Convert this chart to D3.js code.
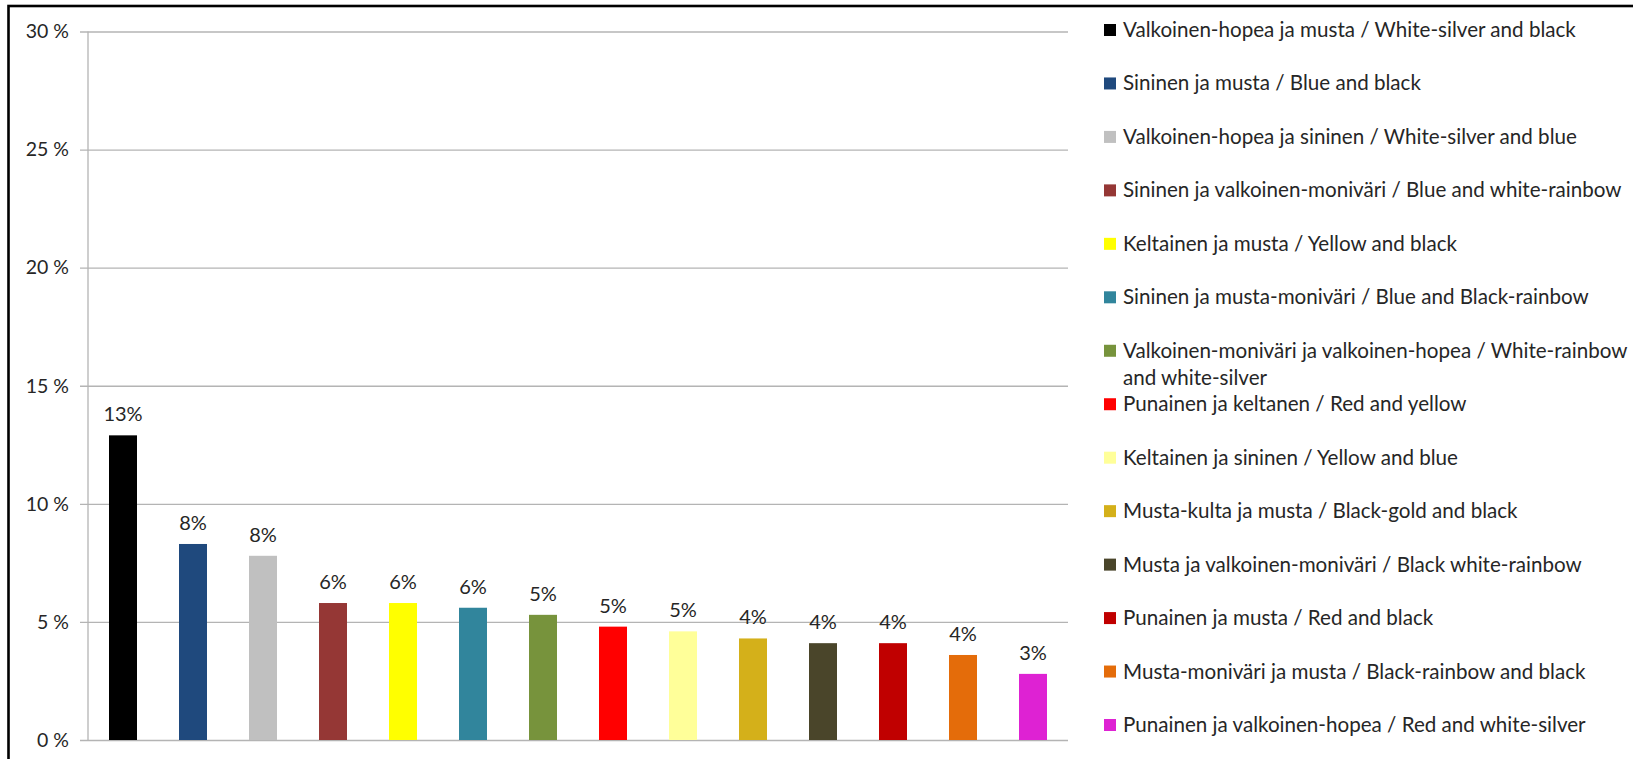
<!DOCTYPE html>
<html>
<head>
<meta charset="utf-8">
<script src="https://cdn.jsdelivr.net/npm/d3@7"></script>
<style>
  body { margin: 0; background: #fff; }
  text { font-family: Lato, "Open Sans", sans-serif; fill: #262626; }
</style>
</head>
<body>
<div id="viz"></div>
<script>

var width = 1633;
var height = 759;

// data
var labelsFi = ["Valkoinen-hopea ja musta", "Sininen ja musta", "Valkoinen-hopea ja sininen",
   "Sininen ja valkoinen-moniväri", "Keltainen ja musta", "Sininen ja musta-moniväri",
   "Valkoinen-moniväri ja valkoinen-hopea", "Punainen ja keltanen", "Keltainen ja sininen",
   "Musta-kulta ja musta", "Musta ja valkoinen-moniväri", "Punainen ja musta",
   "Musta-moniväri ja musta", "Punainen ja valkoinen-hopea"];
var labelsEn = ["White-silver and black", "Blue and black", "White-silver and blue",
   "Blue and white-rainbow", "Yellow and black", "Blue and Black-rainbow",
   "White-rainbow and white-silver", "Red and yellow", "Yellow and blue",
   "Black-gold and black", "Black white-rainbow", "Red and black",
   "Black-rainbow and black", "Red and white-silver"];
var values = [12.9, 8.3, 7.8, 5.8, 5.8, 5.6, 5.3, 4.8, 4.6, 4.3, 4.1, 4.1, 3.6, 2.8];
var valueLabels = ["13%", "8%", "8%", "6%", "6%", "6%", "5%", "5%", "5%", "4%", "4%", "4%", "4%", "3%"];
var colors = ["#000000", "#1F497D", "#C0C0C0", "#953735", "#FFFF00", "#31859C", "#77933C",
   "#FF0000", "#FFFF99", "#D4B01A", "#4A452A", "#C00000", "#E46C0A", "#DE22D3"];
var yTicks = [0, 5, 10, 15, 20, 25, 30];

var svg = d3.select("#viz").append("svg")
   .attr("width", width)
   .attr("height", height);

// outer frame (left and top edges show)
svg.append("rect")
   .attr("x", 8.5)
   .attr("y", 6)
   .attr("width", width)
   .attr("height", height)
   .attr("fill", "none")
   .attr("stroke", "#000")
   .attr("stroke-width", 2.6);

var plotLeft = 88;
var plotRight = 1068;
var plotTop = 31.5;
var plotBottom = 740;

var x = d3.scaleBand()
   .domain(d3.range(values.length))
   .range([plotLeft, plotRight])
   .paddingInner(0.6)
   .paddingOuter(0.3);

var y = d3.scaleLinear()
   .domain([0, 30])
   .range([plotBottom, plotTop]);

// gridlines + y axis
var yAxis = d3.axisLeft(y)
   .tickValues(yTicks)
   .tickSize(-(plotRight - plotLeft))
   .tickPadding(13)
   .tickFormat(function(d) { return d + " %"; });

var gy = svg.append("g")
   .attr("transform", "translate(" + plotLeft + ",0)")
   .call(yAxis);
gy.select(".domain").remove();
gy.selectAll(".tick line")
   .attr("x1", -8)
   .attr("stroke", "#b4b4b4")
   .attr("stroke-width", 1.3);
gy.selectAll(".tick text")
   .style("font-size", "19.5px")
   .style("font-family", "Lato, 'Open Sans', sans-serif")
   .attr("fill", "#262626")
   .attr("dx", "-6");

svg.append("line")
   .attr("x1", plotLeft)
   .attr("x2", plotLeft)
   .attr("y1", plotTop)
   .attr("y2", plotBottom)
   .attr("stroke", "#b4b4b4")
   .attr("stroke-width", 1.3);

// bars
svg.selectAll(".bar")
   .data(values)
   .enter().append("rect")
   .attr("class", "bar")
   .attr("x", function(d, i) { return x(i); })
   .attr("y", function(d) { return y(d); })
   .attr("width", x.bandwidth())
   .attr("height", function(d) { return plotBottom - y(d); })
   .attr("fill", function(d, i) { return colors[i]; });

// value labels
svg.selectAll(".vlabel")
   .data(values)
   .enter().append("text")
   .attr("class", "vlabel")
   .attr("x", function(d, i) { return x(i) + x.bandwidth() / 2; })
   .attr("y", function(d) { return y(d) - 14; })
   .attr("text-anchor", "middle")
   .style("font-size", "20px")
   .text(function(d, i) { return valueLabels[i]; });

// legend
var legendY = d3.scaleLinear()
   .domain([0, values.length - 1])
   .range([37, 732]);

var legend = svg.selectAll(".legend")
   .data(values)
   .enter().append("g")
   .attr("class", "legend")
   .attr("transform", function(d, i) { return "translate(1104," + legendY(i) + ")"; });

legend.append("rect")
   .attr("x", 0)
   .attr("y", -13)
   .attr("width", 12)
   .attr("height", 12)
   .attr("fill", function(d, i) { return colors[i]; });

legend.append("text")
   .attr("x", 19)
   .attr("y", 0)
   .style("font-size", "20.6px")
   .each(function(d, i) {
      var t = d3.select(this);
      if (i == 6) {
         // this one wraps in the original
         t.append("tspan").text(labelsFi[i] + " / White-rainbow");
         t.append("tspan").attr("x", 19).attr("dy", 27).text("and white-silver");
      } else {
         t.text(labelsFi[i] + " / " + labelsEn[i]);
      }
   });

</script>
</body>
</html>
